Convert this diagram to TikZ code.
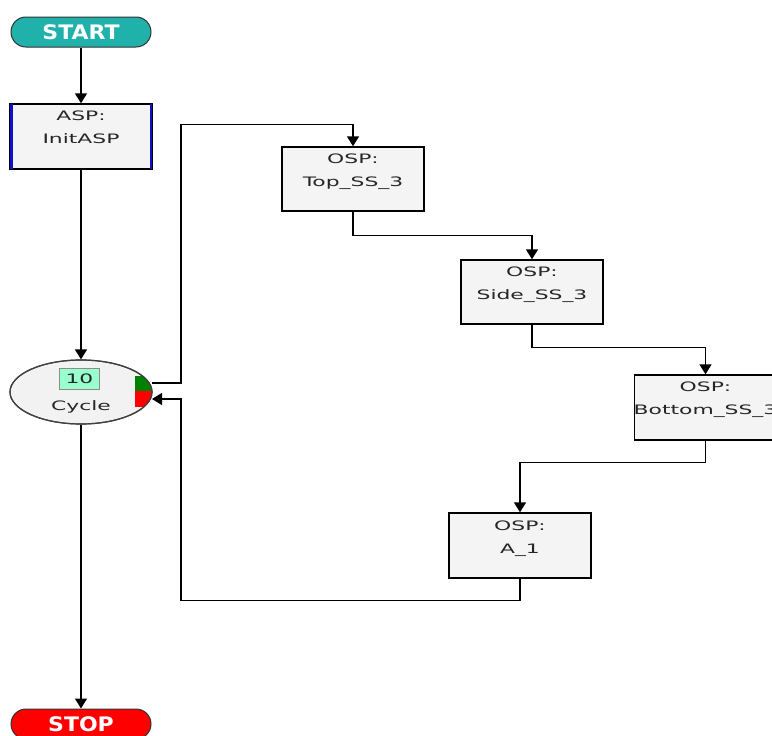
\documentclass[tikz,border=0pt]{standalone}
\usepackage{fontspec}
\setmainfont{DejaVu Sans}
\usetikzlibrary{arrows.meta,calc,shapes.geometric}
\definecolor{startc}{HTML}{20B2AA}
\definecolor{stopc}{HTML}{FF0000}
\definecolor{boxfill}{HTML}{F4F4F4}
\definecolor{ellfill}{HTML}{F2F2F2}
\definecolor{numfill}{HTML}{99FFCC}
\definecolor{aspblue}{HTML}{1010C8}
\definecolor{patchgreen}{HTML}{008000}
\newcommand{\wtext}[1]{\scalebox{1.68}[1]{#1}}
\begin{document}
\begin{tikzpicture}[x=1pt,y=-1pt,
  conn/.style={line width=1.4pt, draw=black},
  arr/.style={conn, -{Triangle[width=12pt,length=10pt]}},
  pill/.style={rectangle, rounded corners=15pt, minimum width=140pt, minimum height=30pt,
    draw=black!80, line width=1pt, text=white, font=\fontsize{20}{20}\selectfont\bfseries, inner sep=0pt},
  stepbox/.style={rectangle, draw=black, line width=1.4pt, fill=boxfill,
    minimum width=142pt, minimum height=64pt, inner sep=0pt},
  boxtext/.style={align=center, font=\fontsize{13}{23}\selectfont, text=black!85, inner sep=0pt},
]
\useasboundingbox (0,0) rectangle (772,736);
% nodes
\node[pill, fill=startc] (start) at (81,32) {\scalebox{1.1}[1]{START}};
\node[stepbox, minimum height=65pt] (asp) at (81,136.5) {};
\draw[aspblue, line width=2.6pt] ([xshift=1.9pt,yshift=-0.7pt]asp.north west) -- ([xshift=1.9pt,yshift=0.7pt]asp.south west);
\draw[aspblue, line width=2.6pt] ([xshift=-1.9pt,yshift=-0.7pt]asp.north east) -- ([xshift=-1.9pt,yshift=0.7pt]asp.south east);
\node[boxtext] (asptxt) at ($(asp.north)+(0,24)$) {\wtext{ASP:}\\\wtext{InitASP}};

\node[ellipse, draw=black!75, line width=1.2pt, fill=ellfill, minimum width=142pt, minimum height=64pt, inner sep=0pt] (cycle) at (81,392) {};
\begin{scope}
  \clip (cycle.center) ellipse [x radius=71pt, y radius=32pt];
  \fill[patchgreen] (135,376) rectangle (154,391);
  \fill[stopc] (135,391) rectangle (154,407);
\end{scope}
\draw[black!75, line width=1.2pt] (cycle.center) ellipse [x radius=71pt, y radius=32pt];
\node[boxtext, draw=black!45, line width=0.8pt, fill=numfill, minimum width=40pt, minimum height=21pt] (num) at (79.5,379) {\wtext{10}};
\node[boxtext] (cyclbl) at (81,407) {\wtext{Cycle}};

\node[stepbox] (top) at (353,179) {};
\node[boxtext] (toptxt) at ($(top.north)+(0,25.5)$) {\wtext{OSP:}\\\wtext{Top\_SS\_3}};
\node[stepbox] (side) at (532,292) {};
\node[boxtext] (sidetxt) at ($(side.north)+(0,25.5)$) {\wtext{OSP:}\\\wtext{Side\_SS\_3}};
\node[stepbox, minimum height=65pt] (bottom) at (705.5,407.5) {};
\node[boxtext] (bottomtxt) at ($(bottom.north)+(0,25.5)$) {\wtext{OSP:}\\\wtext{Bottom\_SS\_3}};
\node[stepbox, minimum height=65pt] (a1) at (520,545.5) {};
\node[boxtext] (a1txt) at ($(a1.north)+(0,26)$) {\wtext{OSP:}\\\wtext{A\_1}};

\node[pill, fill=stopc] (stop) at (81,724) {\scalebox{1.1}[1]{STOP}};

\coordinate (cout) at (152,383);
\coordinate (cin) at (152,399);
% connectors
\draw[arr] (start.south) -- (asp.north);
\draw[arr] (asp.south) -- (cycle.north);
\draw[arr] (cout) -- ++(29,0) |- ($(top.north)+(0,-22)$) -- (top.north);
\draw[arr] (top.south) -- ++(0,24) -| (side.north);
\draw[arr] (side.south) -- ++(0,23) -| (bottom.north);
\draw[arr] (bottom.south) -- ++(0,22) -| (a1.north);
\draw[arr] (a1.south) -- ++(0,22) -| ($(cin)+(29,0)$) -- (cin);
\draw[arr] (cycle.south) -- (stop.north);
\end{tikzpicture}
\end{document}
